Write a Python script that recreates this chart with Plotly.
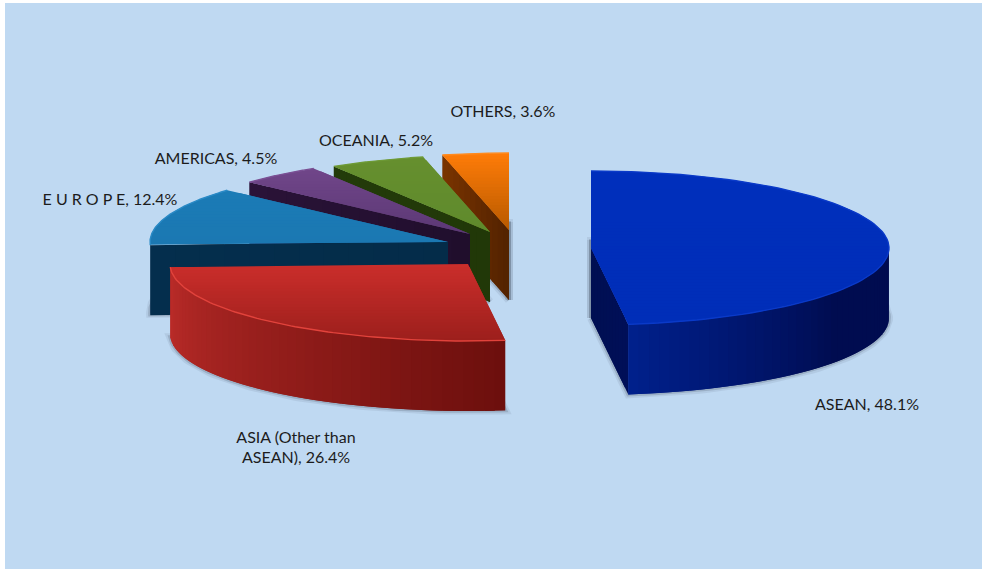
import numpy as np
import plotly.graph_objects as go

categories = ["ASEAN", "ASIA (Other than ASEAN)", "E U R O P E", "AMERICAS", "OCEANIA", "OTHERS"]
shares = [48.1, 26.4, 12.4, 4.5, 5.2, 3.6]
label_text = ["ASEAN, 48.1%", "ASIA (Other than<br>ASEAN), 26.4%", "E U R O P E, 12.4%",
              "AMERICAS, 4.5%", "OCEANIA, 5.2%", "OTHERS, 3.6%"]

# styling / layout (pixel space of a 982x569 canvas)
W, H = 982, 569
RX, RY, DEPTH = 298, 77, 70
apex_x = [591, 468, 448, 470, 490, 509]
apex_y = [248, 264, 242, 234, 232, 230]
label_x = [867, 296, 110, 216, 376, 503]
label_y = [406, 449, 201, 160, 142, 113]
BG = "#BFD9F2"
top_from = ["#002FBC", "#CB2E2B", "#1B7BB6", "#704689", "#668F2E", "#FF7C08"]
top_to = ["#002EB8", "#9C1F1C", "#1B78B2", "#5C3875", "#5F8A2C", "#B85A00"]
rim = ["#0A3AC8", "#E2433C", "#2A8AC6", "#7A5094", "#6E9A36", "#FF8A1E"]
arc_left = ["#000C50", "#BC2C29", "#042D4B", "#24102F", "#223A0A", "#6B2C00"]
arc_right = ["#00208C", "#6C0F0D", "#042D4B", "#24102F", "#223A0A", "#6B2C00"]
face_outer = ["#000F58", "#6C0F0D", "#042E4D", "#2A1338", "#233B0A", "#7A3400"]
face_inner = ["#000F52", "#6C0F0D", "#042C49", "#200E2C", "#213808", "#522200"]


def rgb(h):
    return np.array([int(h[i:i + 2], 16) for i in (1, 3, 5)], float)


def mix(a, b, t):
    c = rgb(a) * (1 - t) + rgb(b) * t
    return "rgb(%d,%d,%d)" % tuple(np.round(c))


def clip(pts, y0, y1):
    def half(p, keep, cross):
        out = []
        for i in range(len(p)):
            a, b = p[i], p[(i + 1) % len(p)]
            ka, kb = keep(a), keep(b)
            if ka:
                out.append(a)
            if ka != kb:
                t = (cross - a[1]) / (b[1] - a[1])
                out.append((a[0] + t * (b[0] - a[0]), cross))
        return out
    p = half(pts, lambda q: q[1] >= y0, y0)
    if p:
        p = half(p, lambda q: q[1] <= y1, y1)
    return p


fig = go.Figure()


def poly(xs, ys, fill, line=None, width=0):
    xs, ys = list(xs), list(ys)
    fig.add_trace(go.Scatter(
        x=xs + xs[:1], y=ys + ys[:1], mode="lines", fill="toself", fillcolor=fill,
        line=dict(color=line or fill, width=width), hoverinfo="skip", showlegend=False))


total = sum(shares)
edges = np.concatenate([[0], np.cumsum(shares)]) / total * 360

for i in reversed(range(len(shares))):
    cx, cy = apex_x[i], apex_y[i]
    a0, a1 = edges[i], edges[i + 1]
    th = np.radians(np.linspace(a0, a1, 90))
    ax = cx + RX * np.sin(th)
    ay = cy - RY * np.cos(th)

    # soft drop shadow under the extruded body
    for w, alpha in ((8, 0.10), (4, 0.22)):
        col = "rgba(70,80,95,%.2f)" % alpha
        poly([cx] + list(ax), [cy + DEPTH] + list(ay + DEPTH), "rgba(0,0,0,0)", col, w)
        if 0 < a1 <= 180 or a0 == 0 or i == 5:
            fig.add_trace(go.Scatter(x=[cx, cx], y=[cy - 8, cy + DEPTH], mode="lines",
                                     line=dict(color=col, width=w), hoverinfo="skip", showlegend=False))

    # cut faces
    for ang, on in ((a0, 180 < a0 < 360), (a1, 0 < a1 <= 180)):
        if not on:
            continue
        ex = cx + RX * np.sin(np.radians(ang))
        ey = cy - RY * np.cos(np.radians(ang))
        n = 12
        for k in range(n):
            t0, t1 = k / n, min(1.0, (k + 2) / n)
            x0, x1 = ex + (cx - ex) * t0, ex + (cx - ex) * t1
            y0, y1 = ey + (cy - ey) * t0, ey + (cy - ey) * t1
            poly([x0, x1, x1, x0], [y0, y1, y1 + DEPTH, y0 + DEPTH],
                 mix(face_outer[i], face_inner[i], (k + .5) / n))

    # outer wall, front half only; each strip runs under the next one
    lo, hi = max(a0, 90), min(a1, 270)
    if hi > lo:
        n = max(2, int((hi - lo) / 2))
        steps = np.linspace(lo, hi, n + 1)
        for k in range(n):
            t = np.radians(np.linspace(steps[k], steps[min(k + 2, n)], 6))
            sx = cx + RX * np.sin(t)
            sy = cy - RY * np.cos(t)
            u = (steps[k] + steps[k + 1]) / 2
            f = (u - lo) / (hi - lo)
            c = mix(arc_right[i], arc_left[i], f)
            if i == 0:
                # the blue wall is bright only near its cut edge
                c = mix(arc_left[i], arc_right[i], min(1.0, max(0.0, (u - 125) / 48)))
            poly(list(sx) + list(sx[::-1]), list(sy) + list(sy[::-1] + DEPTH), c)

    # top face, banded vertically; each band runs under the next one
    pts = [(cx, cy)] + list(zip(ax, ay))
    ymin, ymax = min(p[1] for p in pts), max(p[1] for p in pts)
    n = max(4, int((ymax - ymin) / 3))
    bands = np.linspace(ymin, ymax, n + 1)
    for k in range(n):
        p = clip(pts, bands[k], bands[min(k + 2, n)])
        if len(p) >= 3:
            poly([q[0] for q in p], [q[1] for q in p], mix(top_from[i], top_to[i], (k + .5) / n))
    fig.add_trace(go.Scatter(x=ax, y=ay, mode="lines", line=dict(color=rim[i], width=1.4),
                             hoverinfo="skip", showlegend=False))

fig.add_trace(go.Scatter(
    x=label_x, y=label_y, mode="text", text=label_text, textposition="middle center",
    textfont=dict(family="Lato", size=16, color="#1c1c1c"), hoverinfo="skip", showlegend=False))

fig.update_layout(
    width=W, height=H, margin=dict(l=0, r=0, t=0, b=0),
    paper_bgcolor="white", plot_bgcolor="white",
    xaxis=dict(range=[0, W], visible=False, fixedrange=True),
    yaxis=dict(range=[H, 0], visible=False, fixedrange=True),
    shapes=[dict(type="rect", xref="x", yref="y", x0=5, y0=3, x1=W, y1=H,
                 fillcolor=BG, line=dict(width=0), layer="below")],
)
fig.write_html("out.html", config={"displayModeBar": False},
               post_script="document.body.style.margin='0';document.body.style.overflow='hidden';")
